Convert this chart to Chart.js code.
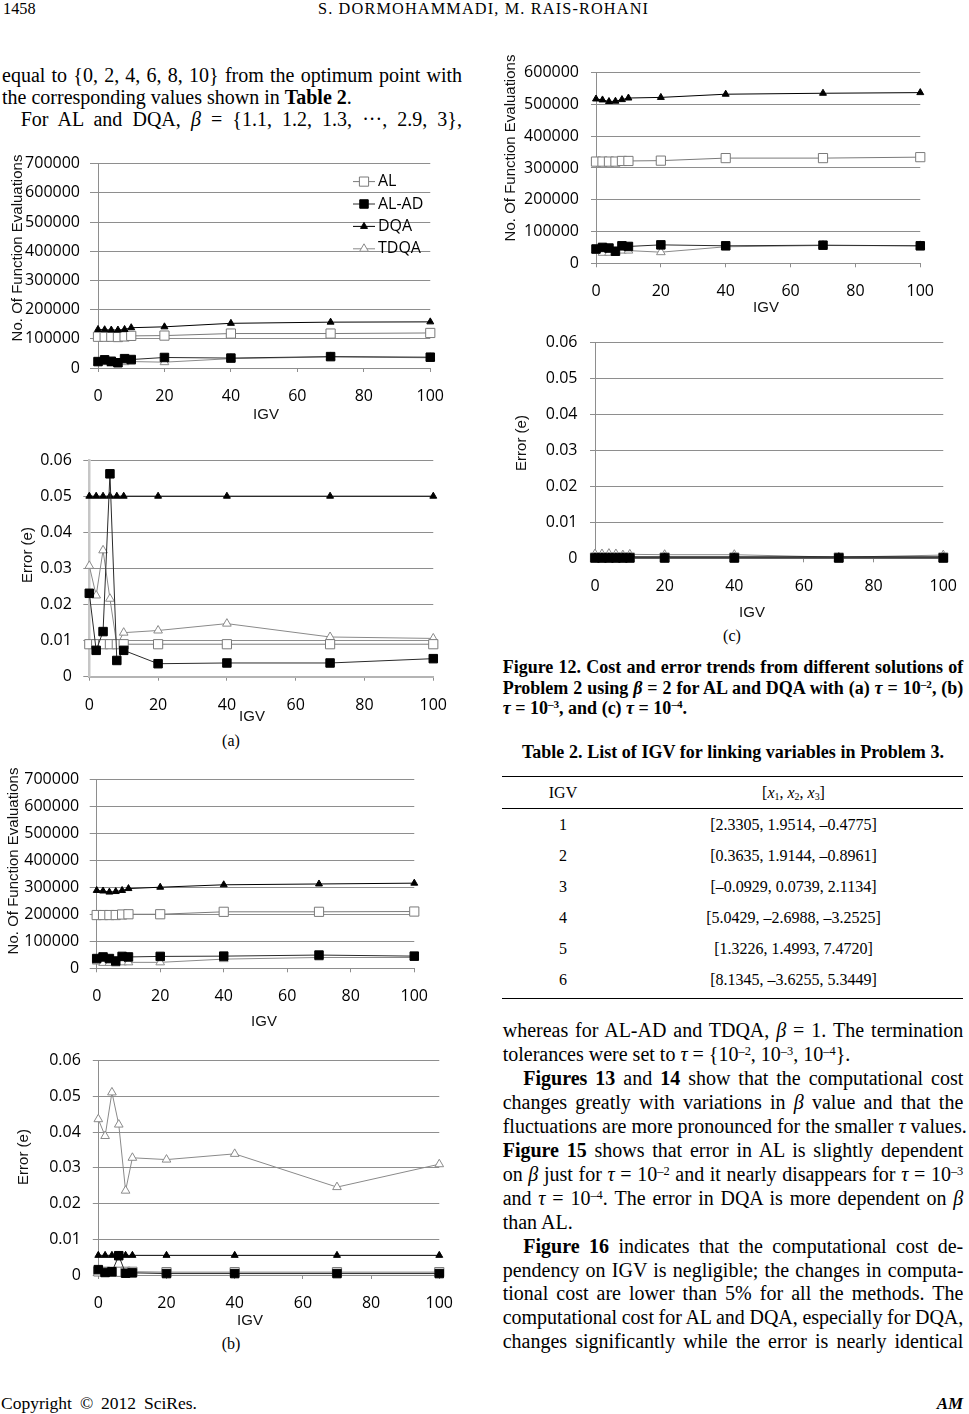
<!DOCTYPE html>
<html lang="en">
<head>
<meta charset="utf-8">
<title>Figure 12 - Cost and error trends</title>
<script src="https://cdn.jsdelivr.net/npm/chart.js@4.4.1/dist/chart.umd.min.js"></script>
<style>
  html, body { margin: 0; padding: 0; background: #fff; }
  body { position: relative; width: 969px; height: 1414px; overflow: hidden;
         font-family: "Liberation Serif", "Times New Roman", serif; color: #000; }
  .t { position: absolute; white-space: nowrap; line-height: 1; }
  .blk { position: absolute; white-space: nowrap; }
  .j { display: inline-block; white-space: nowrap; }
  .c { transform: translateX(-50%); }
  sup { font-size: 0.62em; line-height: 0; vertical-align: 0.5em; }
  sub { font-size: 0.62em; line-height: 0; vertical-align: -0.25em; }
  canvas { position: absolute; }
  #tbl { position: absolute; left: 502px; top: 776px; width: 461px; border-collapse: collapse; font-size: 16px; }
  #tbl th, #tbl td { font-weight: normal; text-align: center; padding: 0; height: 31px; line-height: 16px; vertical-align: middle; }
  #tbl th:first-child, #tbl td:first-child { width: 122px; }
  #tbl thead tr { border-top: 1px solid #000; border-bottom: 1px solid #000; }
  #tbl tbody tr:last-child { border-bottom: 1px solid #000; }
  #tbl tbody tr:last-child td { padding-bottom: 3px; }
</style>
</head>
<body>

<!-- header -->
<div class="t" style="left:3px;top:1.4px;font-size:16.3px">1458</div>
<div class="t j" data-w="330" data-fit="letter" style="position:absolute;left:318px;top:1.4px;font-size:16.3px">S. DORMOHAMMADI, M. RAIS-ROHANI</div>

<!-- left column, top -->
<div class="blk" style="left:2px;top:63.9px;font-size:20px;line-height:22.15px">
  <div><span class="j" data-w="460">equal to {0, 2, 4, 6, 8, 10} from the optimum point with</span></div>
  <div><span class="j">the corresponding values shown in <b>Table 2</b>.</span></div>
  <div style="padding-left:18.7px"><span class="j" data-w="441.3">For AL and DQA, <i>β</i> = {1.1, 1.2, 1.3, ···, 2.9, 3},</span></div>
</div>

<!-- sub-figure labels -->
<div class="t c" style="left:231px;top:732.6px;font-size:16px">(a)</div>
<div class="t c" style="left:231px;top:1335.6px;font-size:16px">(b)</div>
<div class="t c" style="left:732px;top:627.6px;font-size:16px">(c)</div>

<!-- figure caption -->
<div class="blk" style="left:502.7px;top:656.8px;font-size:18px;line-height:20.85px;font-weight:bold">
  <div><span class="j" data-w="460.6">Figure 12. Cost and error trends from different solutions of</span></div>
  <div><span class="j" data-w="460.6">Problem 2 using <i>β</i> = 2 for AL and DQA with (a) <i>τ</i> = 10<sup>–2</sup>, (b)</span></div>
  <div><span class="j"><i>τ</i> = 10<sup>–3</sup>, and (c) <i>τ</i> = 10<sup>–4</sup>.</span></div>
</div>

<!-- table -->
<div class="t c j" data-w="422" style="position:absolute;left:733px;top:743.2px;font-size:18px;font-weight:bold">Table 2. List of IGV for linking variables in Problem 3.</div>
<table id="tbl">
  <thead><tr><th>IGV</th><th>[<i>x</i><sub>1</sub>, <i>x</i><sub>2</sub>, <i>x</i><sub>3</sub>]</th></tr></thead>
  <tbody>
    <tr><td>1</td><td>[2.3305, 1.9514, –0.4775]</td></tr>
    <tr><td>2</td><td>[0.3635, 1.9144, –0.8961]</td></tr>
    <tr><td>3</td><td>[–0.0929, 0.0739, 2.1134]</td></tr>
    <tr><td>4</td><td>[5.0429, –2.6988, –3.2525]</td></tr>
    <tr><td>5</td><td>[1.3226, 1.4993, 7.4720]</td></tr>
    <tr><td>6</td><td>[8.1345, –3.6255, 5.3449]</td></tr>
  </tbody>
</table>

<!-- right column text -->
<div class="blk" style="left:502.7px;top:1018.97px;font-size:20px;line-height:23.95px">
  <div><span class="j" data-w="460.6">whereas for AL-AD and TDQA, <i>β</i> = 1. The termination</span></div>
  <div><span class="j">tolerances were set to <i>τ</i> = {10<sup>–2</sup>, 10<sup>–3</sup>, 10<sup>–4</sup>}.</span></div>
  <div style="padding-left:20.6px"><span class="j" data-w="440"><b>Figures 13</b> and <b>14</b> show that the computational cost</span></div>
  <div><span class="j" data-w="460.6">changes greatly with variations in <i>β</i> value and that the</span></div>
  <div><span class="j" data-w="464">fluctuations are more pronounced for the smaller <i>τ</i> values.</span></div>
  <div><span class="j" data-w="460.6"><b>Figure 15</b> shows that error in AL is slightly dependent</span></div>
  <div><span class="j" data-w="460.6">on <i>β</i> just for <i>τ</i> = 10<sup>–2</sup> and it nearly disappears for <i>τ</i> = 10<sup>–3</sup></span></div>
  <div><span class="j" data-w="460.6">and <i>τ</i> = 10<sup>–4</sup>. The error in DQA is more dependent on <i>β</i></span></div>
  <div><span class="j">than AL.</span></div>
  <div style="padding-left:20.6px"><span class="j" data-w="440"><b>Figure 16</b> indicates that the computational cost de-</span></div>
  <div><span class="j" data-w="460.6">pendency on IGV is negligible; the changes in computa-</span></div>
  <div><span class="j" data-w="460.6">tional cost are lower than 5% for all the methods. The</span></div>
  <div><span class="j" data-w="460.6">computational cost for AL and DQA, especially for DQA,</span></div>
  <div><span class="j" data-w="460.6">changes significantly while the error is nearly identical</span></div>
</div>

<!-- footer -->
<div class="t j" data-w="196" style="position:absolute;left:1px;top:1395.3px;font-size:17.5px">Copyright © 2012 SciRes.</div>
<div class="t" style="left:936.7px;top:1394.8px;font-size:17px;font-weight:bold;font-style:italic">AM</div>

<script>
// ---- data ----
const IGV = [0, 2, 4, 6, 8, 10, 20, 40, 70, 100];
const SERIES_NAMES = ['AL', 'AL-AD', 'DQA', 'TDQA'];

// (a) tau = 1e-2
const costA_AL   = [107000, 107000, 107000, 106000, 108000, 110000, 111000, 118000, 118000, 120000];
const costA_ALAD = [22000, 28000, 23000, 18000, 32000, 29000, 36000, 34000, 39000, 37000];
const costA_DQA  = [132000, 131000, 130000, 130000, 132000, 138000, 141000, 153000, 157000, 158000];
const costA_TDQA = [18000, 20000, 15000, 14000, 20000, 22000, 20000, 32000, 38000, 35000];
const errA_AL    = [0.0090, 0.0090, 0.0090, 0.0090, 0.0090, 0.0090, 0.0090, 0.0090, 0.0090, 0.0090];
const errA_ALAD  = [0.0231, 0.0073, 0.0125, 0.0562, 0.0045, 0.0073, 0.0036, 0.0038, 0.0038, 0.0050];
const errA_DQA   = [0.05, 0.05, 0.05, 0.05, 0.05, 0.05, 0.05, 0.05, 0.05, 0.05];
const errA_TDQA  = [0.0307, 0.0225, 0.0350, 0.0216, 0.0088, 0.0122, 0.0128, 0.0147, 0.0110, 0.0106];

// (b) tau = 1e-3
const costB_AL   = [197000, 197000, 197000, 197000, 199000, 200000, 200000, 209000, 209000, 210000];
const costB_ALAD = [36000, 42000, 36000, 27000, 44000, 42000, 44000, 45000, 49000, 45000];
const costB_DQA  = [288000, 286000, 282000, 284000, 288000, 295000, 300000, 309000, 312000, 315000];
const costB_TDQA = [25000, 20000, 20000, 18000, 22000, 22000, 22000, 34000, 40000, 40000];
const errB_AL    = [0.0010, 0.0009, 0.0009, 0.0009, 0.0009, 0.0009, 0.0008, 0.0008, 0.0008, 0.0008];
const errB_ALAD  = [0.0015, 0.0007, 0.0009, 0.0054, 0.0005, 0.0006, 0.0004, 0.0004, 0.0004, 0.0004];
const errB_DQA   = [0.0055, 0.0055, 0.0055, 0.0055, 0.0055, 0.0055, 0.0055, 0.0055, 0.0055, 0.0055];
const errB_TDQA  = [0.0436, 0.0389, 0.0511, 0.0421, 0.0236, 0.0328, 0.0323, 0.0339, 0.0246, 0.0310];

// (c) tau = 1e-4
const costC_AL   = [320000, 320000, 320000, 320000, 322000, 322000, 323000, 331000, 331000, 334000];
const costC_ALAD = [45000, 50000, 48000, 38000, 55000, 53000, 58000, 55000, 57000, 55000];
const costC_DQA  = [517000, 514000, 509000, 510000, 515000, 520000, 522000, 532000, 535000, 537000];
const costC_TDQA = [40000, 33000, 33000, 35000, 40000, 40000, 35000, 52000, 56000, 55000];
const errC_AL    = [0.0002, 0.0002, 0.0002, 0.0002, 0.0002, 0.0002, 0.0002, 0.0002, 0.0002, 0.0002];
const errC_ALAD  = [0.0001, 0.0001, 0.0001, 0.0001, 0.0001, 0.0001, 0.0001, 0.0001, 0.0001, 0.0001];
const errC_DQA   = [0.0004, 0.0004, 0.0004, 0.0004, 0.0004, 0.0004, 0.0004, 0.0004, 0.0004, 0.0004];
const errC_TDQA  = [0.0012, 0.0012, 0.0013, 0.0012, 0.0009, 0.0011, 0.0010, 0.0010, 0.0003, 0.0009];

// axes
const COST_MAX_AB = 700000;
const COST_MAX_C  = 600000;
const COST_STEP   = 100000;
const ERR_MAX     = 0.06;
const ERR_STEP    = 0.01;
const X_MIN = 0, X_MAX = 100, X_STEP = 20;
const X_TITLE = 'IGV';
const Y_TITLE_COST = 'No. Of Function Evaluations';
const Y_TITLE_ERR  = 'Error (e)';

// ---- styles ----
const GRID = '#8e8e8e';
const TICK_FONT = { family: '"Open Sans", sans-serif', size: 16 };

const STYLE = {
  'AL':    { pointStyle: 'rect',     pointRadius: 6.5, pointBackgroundColor: '#ffffff', pointBorderColor: '#7a7a7a', borderColor: '#7a7a7a', order: 2 },
  'AL-AD': { pointStyle: 'rect',     pointRadius: 6.0, pointBackgroundColor: '#000000', pointBorderColor: '#000000', borderColor: '#2a2a2a', order: 0 },
  'DQA':   { pointStyle: 'triangle', pointRadius: 4.0, pointBackgroundColor: '#000000', pointBorderColor: '#000000', borderColor: '#000000', order: 1 },
  'TDQA':  { pointStyle: 'triangle', pointRadius: 5.0, pointBackgroundColor: '#ffffff', pointBorderColor: '#8a8a8a', borderColor: '#8a8a8a', order: 3 },
};

// plot rectangles (page px): [left, right, top, bottom]
const LAYOUT = {
  aCost: { plot: [98, 437, 158, 368],         yTick: 8,   yPad: 10,   xt: [266, 415],  yt: [18, 248] },
  aErr:  { plot: [89.3, 440, 453.3, 676.7],   yTick: 6,   yPad: 11.5, xt: [252, 717],  yt: [27.5, 555],
           yAxis: ['#c6c6c6', 2.5], xAxis: ['#b4b4b4', 2] },
  bCost: { plot: [96.7, 420.7, 773.3, 968.3], yTick: 7,   yPad: 10.5, xt: [264, 1022], yt: [14, 861] },
  bErr:  { plot: [98.3, 445.7, 1053.3, 1275], yTick: 5.5, yPad: 12,   xt: [250, 1321], yt: [24, 1157] },
  cCost: { plot: [596, 927, 65, 263.3],       yTick: 5,   yPad: 12,   xt: [766, 308],  yt: [511, 148] },
  cErr:  { plot: [595, 950, 334.3, 558.3],    yTick: 5,   yPad: 12.5, xt: [752, 613],  yt: [522, 443] },
};

// justify / fit text lines to the widths measured on the page
document.querySelectorAll('[data-w]').forEach(el => {
  const target = +el.dataset.w;
  const natural = el.getBoundingClientRect().width;
  if (el.dataset.fit === 'letter') {
    const n = el.textContent.length - 1;
    el.style.letterSpacing = ((target - natural) / n) + 'px';
  } else {
    const n = (el.textContent.match(/ /g) || []).length;
    if (n) el.style.wordSpacing = ((target - natural) / n) + 'px';
  }
});

// axis titles placed where the original figure has them
const axisTitles = {
  id: 'axisTitles',
  afterDraw(chart, args, o) {
    if (!o || !o.xText) return;
    const ctx = chart.ctx;
    ctx.save();
    ctx.fillStyle = '#111';
    ctx.font = o.font;
    ctx.textAlign = 'center';
    ctx.textBaseline = 'middle';
    ctx.fillText(o.xText, o.xX, o.xY);
    ctx.translate(o.yX, o.yY);
    ctx.rotate(-Math.PI / 2);
    ctx.fillText(o.yText, 0, 0);
    ctx.restore();
  }
};

// legend drawn inside the plot area, Excel style (line through marker)
const insideLegend = {
  id: 'insideLegend',
  afterDatasetsDraw(chart, args, o) {
    if (!o || !o.show) return;
    const ctx = chart.ctx, a = chart.chartArea;
    chart.data.datasets.forEach((ds, i) => {
      const y = a.top + o.top + i * o.rowH;
      const xm = a.left + o.left;
      ctx.save();
      ctx.strokeStyle = ds.borderColor;
      ctx.lineWidth = 1;
      ctx.beginPath(); ctx.moveTo(xm - 11, y); ctx.lineTo(xm + 11, y); ctx.stroke();
      ctx.fillStyle = ds.pointBackgroundColor;
      ctx.strokeStyle = ds.pointBorderColor;
      Chart.helpers.drawPoint(ctx, { pointStyle: ds.pointStyle, radius: ds.pointRadius, borderWidth: 1, rotation: 0 }, xm, y);
      ctx.fillStyle = '#000';
      ctx.font = o.font;
      ctx.textAlign = 'left';
      ctx.textBaseline = 'middle';
      ctx.fillText(ds.label, xm + 14, y);
      ctx.restore();
    });
  }
};

Chart.register(axisTitles, insideLegend);

function datasets(vals) {
  return SERIES_NAMES.map((name, i) => Object.assign({
    label: name,
    data: IGV.map((x, j) => ({ x, y: vals[i][j] })),
    borderWidth: 1, pointBorderWidth: 1, tension: 0, fill: false, clip: false,
  }, STYLE[name]));
}

function buildChart(L, yMax, yStep, vals, yTitle, withLegend) {
  const [pl, pr, pt, pb] = L.plot;
  const cl = Math.round(pl - 95), ct = Math.round(pt - 14);
  const cr = Math.round(pr + 22), cb = Math.round(pb + 62);
  const YW = pl - cl, PT = pt - ct, PR = cr - pr, XH = cb - pb;
  const canvas = document.createElement('canvas');
  canvas.width = cr - cl; canvas.height = cb - ct;
  canvas.style.left = cl + 'px'; canvas.style.top = ct + 'px';
  canvas.style.width = (cr - cl) + 'px'; canvas.style.height = (cb - ct) + 'px';
  document.body.appendChild(canvas);

  return new Chart(canvas.getContext('2d'), {
    type: 'line',
    data: { datasets: datasets(vals) },
    options: {
      responsive: false,
      animation: false,
      devicePixelRatio: 1,
      events: [],
      layout: { padding: { top: PT, right: PR, left: 0, bottom: 0 } },
      plugins: {
        legend: { display: false },
        tooltip: { enabled: false },
        axisTitles: {
          font: '15px "Liberation Sans", Arial, sans-serif',
          xText: X_TITLE, xX: L.xt[0] - cl, xY: L.xt[1] - ct,
          yText: yTitle,  yX: L.yt[0] - cl, yY: L.yt[1] - ct,
        },
        insideLegend: { show: withLegend, left: 266, top: 18, rowH: 22.4, font: '16px "Open Sans", sans-serif' },
      },
      scales: {
        x: {
          type: 'linear', min: X_MIN, max: X_MAX,
          afterFit: s => { s.height = XH; },
          ticks: { stepSize: X_STEP, autoSkip: false, maxRotation: 0, padding: 15, font: TICK_FONT, color: '#000' },
          grid: { drawOnChartArea: false, drawTicks: true, tickLength: 4, color: GRID },
          border: { display: true, color: L.xAxis ? L.xAxis[0] : GRID, width: L.xAxis ? L.xAxis[1] : 1 },
        },
        y: {
          min: 0, max: yMax,
          afterFit: s => { s.width = YW; },
          ticks: { stepSize: yStep, autoSkip: false, padding: L.yPad, font: TICK_FONT, color: '#000',
                   callback: v => String(+(+v).toFixed(4)) },
          grid: { color: GRID, lineWidth: 1, drawTicks: true, tickLength: L.yTick },
          border: { display: true, color: L.yAxis ? L.yAxis[0] : GRID, width: L.yAxis ? L.yAxis[1] : 1 },
        },
      },
    },
  });
}

buildChart(LAYOUT.aCost, COST_MAX_AB, COST_STEP, [costA_AL, costA_ALAD, costA_DQA, costA_TDQA], Y_TITLE_COST, true);
buildChart(LAYOUT.aErr,  ERR_MAX,     ERR_STEP,  [errA_AL, errA_ALAD, errA_DQA, errA_TDQA],     Y_TITLE_ERR,  false);
buildChart(LAYOUT.bCost, COST_MAX_AB, COST_STEP, [costB_AL, costB_ALAD, costB_DQA, costB_TDQA], Y_TITLE_COST, false);
buildChart(LAYOUT.bErr,  ERR_MAX,     ERR_STEP,  [errB_AL, errB_ALAD, errB_DQA, errB_TDQA],     Y_TITLE_ERR,  false);
buildChart(LAYOUT.cCost, COST_MAX_C,  COST_STEP, [costC_AL, costC_ALAD, costC_DQA, costC_TDQA], Y_TITLE_COST, false);
buildChart(LAYOUT.cErr,  ERR_MAX,     ERR_STEP,  [errC_AL, errC_ALAD, errC_DQA, errC_TDQA],     Y_TITLE_ERR,  false);
</script>
</body>
</html>
